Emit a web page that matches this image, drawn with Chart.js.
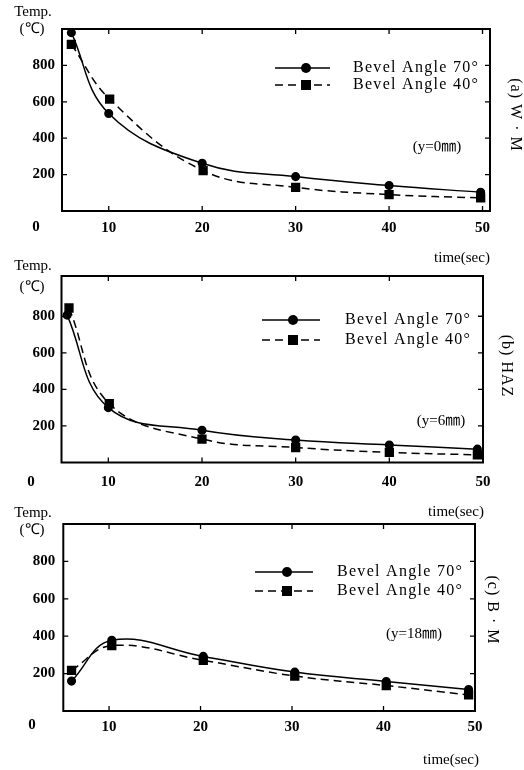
<!DOCTYPE html>
<html>
<head>
<meta charset="utf-8">
<script src="https://cdn.jsdelivr.net/npm/chart.js@4.4.0/dist/chart.umd.min.js"></script>
<style>
  body { margin: 0; background: #fff; }
  #wrap { position: relative; width: 524px; height: 770px; }
  .panel { position: absolute; left: 0; width: 524px; }
</style>
</head>
<body>
<div id="wrap">
  <div class="panel" style="top:0;height:270px"><canvas id="chartA"></canvas></div>
  <div class="panel" style="top:255px;height:265px"><canvas id="chartB"></canvas></div>
  <div class="panel" style="top:505px;height:265px"><canvas id="chartC"></canvas></div>
</div>
<script>
// tick labels
const xTicks = [10, 20, 30, 40, 50];
const yTicks = [0, 200, 400, 600, 800];
const seriesNames = ["Bevel Angle 70°", "Bevel Angle 40°"];

// (a) W·M, y=0mm
const timeA70 = [6, 10, 20, 30, 40, 49.8];
const tempA70 = [980, 536, 262, 189, 140, 103];
const timeA40 = [6, 10.1, 20.1, 30, 40, 49.8];
const tempA40 = [916, 615, 222, 130, 90, 72];

// (b) HAZ, y=6mm
const timeB70 = [5.6, 10, 20, 30, 40, 49.4];
const tempB70 = [806, 300, 176, 123, 96, 73];
const timeB40 = [5.8, 10.1, 20, 30, 40, 49.4];
const tempB40 = [845, 322, 128, 82, 55, 42];

// (c) B·M, y=18mm
const timeC70 = [5.9, 10.3, 20.3, 30.3, 40.3, 49.3];
const tempC70 = [160, 378, 292, 208, 158, 115];
const timeC40 = [5.9, 10.3, 20.3, 30.3, 40.3, 49.3];
const tempC40 = [217, 350, 271, 187, 136, 86];

Chart.defaults.font.family = "'Liberation Serif', serif";
Chart.defaults.font.size = 15;
Chart.defaults.font.weight = "bold";
Chart.defaults.color = "#000";

const toPts = (xs, ys) => xs.map((x, i) => ({ x: x, y: ys[i] }));

// box, inward ticks, legend and the loose labels
const panelDecor = {
  id: "panelDecor",
  afterDraw(chart, args, o) {
    const { ctx, chartArea: a, scales: { x, y } } = chart;
    ctx.save();
    ctx.strokeStyle = "#000";
    ctx.fillStyle = "#000";
    ctx.lineWidth = 2;
    ctx.strokeRect(a.left, a.top, a.right - a.left, a.bottom - a.top);
    ctx.lineWidth = 1.3;
    ctx.beginPath();
    xTicks.forEach(v => {
      const px = x.getPixelForValue(v);
      if (px >= a.right - 2) return;
      ctx.moveTo(px, a.top); ctx.lineTo(px, a.top + 5);
      ctx.moveTo(px, a.bottom); ctx.lineTo(px, a.bottom - 5);
    });
    yTicks.forEach(v => {
      if (v === 0) return;
      const py = y.getPixelForValue(v);
      ctx.moveTo(a.left, py); ctx.lineTo(a.left + 5, py);
      ctx.moveTo(a.right, py); ctx.lineTo(a.right - 5, py);
    });
    ctx.stroke();

    // legend
    ctx.font = "16px 'Liberation Serif'";
    ctx.textBaseline = "middle";
    ctx.textAlign = "left";
    chart.data.datasets.forEach((ds, i) => {
      const ly = o.legendY[i];
      ctx.lineWidth = 1.5;
      ctx.setLineDash(ds.borderDash || []);
      ctx.beginPath();
      ctx.moveTo(o.legendX[0], ly);
      ctx.lineTo(o.legendX[1], ly);
      ctx.stroke();
      ctx.setLineDash([]);
      const mx = o.legendX[2];
      if (ds.pointStyle === "rect") {
        ctx.fillRect(mx - 5, ly - 5, 10, 10);
      } else {
        ctx.beginPath();
        ctx.arc(mx, ly, 5, 0, Math.PI * 2);
        ctx.fill();
      }
      ctx.letterSpacing = "1.3px";
      ctx.fillText(ds.label, o.legendX[3], ly);
      ctx.letterSpacing = "0px";
    });

    ctx.font = "15px 'Liberation Serif'";
    ctx.textAlign = "center";
    ctx.fillText("Temp.", o.temp[0], o.temp[1]);
    ctx.fillText("(℃)", o.unit[0], o.unit[1]);
    ctx.font = "bold 15px 'Liberation Serif'";
    ctx.fillText("0", o.zero[0], o.zero[1]);
    ctx.font = "15px 'Liberation Serif'";
    ctx.fillText("time(sec)", o.time[0], o.time[1]);
    ctx.font = "15px 'Liberation Serif', 'Noto Sans CJK JP'";
    ctx.fillText(o.note, o.noteAt[0], o.noteAt[1]);

    ctx.font = "16px 'Liberation Serif'";
    ctx.translate(o.side[0], o.side[1]);
    ctx.rotate(Math.PI / 2);
    ctx.letterSpacing = "1px";
    ctx.fillText(o.sideText, 0, 0);
    ctx.restore();
  }
};

function makePanel(id, s) {
  return new Chart(document.getElementById(id), {
    type: "line",
    data: {
      datasets: [
        {
          label: seriesNames[0],
          data: toPts(s.t70, s.v70),
          borderColor: "#000",
          backgroundColor: "#000",
          borderWidth: 1.5,
          pointStyle: "circle",
          pointRadius: 3.8,
          pointHoverRadius: 3.8,
          tension: 0.4,
          clip: 6,
        },
        {
          label: seriesNames[1],
          data: toPts(s.t40, s.v40),
          borderColor: "#000",
          backgroundColor: "#000",
          borderWidth: 1.5,
          borderDash: [8, 5],
          pointStyle: "rect",
          pointRadius: 5.5,
          pointHoverRadius: 5.5,
          tension: 0.4,
          clip: 6,
        },
      ],
    },
    options: {
      responsive: true,
      maintainAspectRatio: false,
      animation: false,
      events: [],
      layout: { padding: { left: 0, right: s.padRight, top: s.padTop, bottom: 0 } },
      scales: {
        x: {
          type: "linear",
          min: 5,
          max: s.xMax,
          grid: { display: false, drawTicks: false },
          border: { display: false },
          ticks: { padding: s.xPad },
          afterBuildTicks: sc => { sc.ticks = xTicks.map(v => ({ value: v })); },
          afterFit: sc => { sc.height = s.xHeight; },
        },
        y: {
          min: 0,
          max: s.yMax,
          grid: { display: false, drawTicks: false },
          border: { display: false },
          ticks: { padding: s.yPad, callback: v => (v === 0 ? "" : v) },
          afterBuildTicks: sc => { sc.ticks = yTicks.map(v => ({ value: v })); },
          afterFit: sc => { sc.width = s.yWidth; },
        },
      },
      plugins: {
        legend: { display: false },
        tooltip: { enabled: false },
        panelDecor: s.decor,
      },
    },
    plugins: [panelDecor],
  });
}

makePanel("chartA", {
  t70: timeA70, v70: tempA70, t40: timeA40, v40: tempA40,
  xMax: 50.8, yMax: 1000,
  padRight: 34, padTop: 29, xHeight: 59, yWidth: 62, xPad: 8, yPad: 7,
  decor: {
    legendY: [68, 85], legendX: [275, 330, 306, 353],
    temp: [33, 12], unit: [32, 29], zero: [36, 227], time: [462, 258],
    note: "(y=0㎜)", noteAt: [437, 147],
    side: [515, 115], sideText: "(a) W · M",
  },
});

makePanel("chartB", {
  t70: timeB70, v70: tempB70, t40: timeB40, v40: tempB40,
  xMax: 50, yMax: 1020,
  padRight: 41, padTop: 21, xHeight: 57.5, yWidth: 61.5, xPad: 11, yPad: 6.5,
  decor: {
    legendY: [65, 85], legendX: [262, 320, 293, 345],
    temp: [33, 11], unit: [32, 32], zero: [31, 227], time: [456, 257],
    note: "(y=6㎜)", noteAt: [441, 166],
    side: [506, 111], sideText: "(b) HAZ",
  },
});

makePanel("chartC", {
  t70: timeC70, v70: tempC70, t40: timeC40, v40: tempC40,
  xMax: 50, yMax: 1000,
  padRight: 49, padTop: 19, xHeight: 59, yWidth: 63.3, xPad: 7, yPad: 8,
  decor: {
    legendY: [67, 86], legendX: [255, 313, 287, 337],
    temp: [33, 8], unit: [32, 25], zero: [32, 220], time: [451, 255],
    note: "(y=18㎜)", noteAt: [414, 129],
    side: [492, 105], sideText: "(c) B · M",
  },
});
</script>
</body>
</html>
